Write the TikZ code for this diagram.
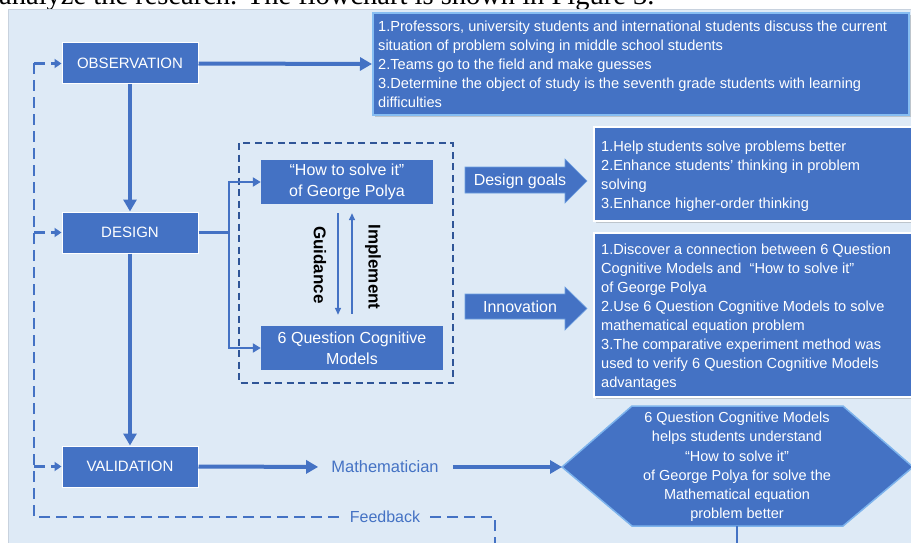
\documentclass[tikz,border=0pt]{standalone}
\usepackage{fontspec}
\setmainfont{Liberation Sans}
\newfontfamily\headserif{Liberation Serif}
\usetikzlibrary{arrows.meta,shadows}
\definecolor{boxblue}{HTML}{4472C4}
\definecolor{panelbg}{HTML}{DEEAF6}
\definecolor{paneledge}{HTML}{C8D2DE}
\definecolor{darkdash}{HTML}{2F5597}
\definecolor{edgeblue}{HTML}{86BDF2}
\definecolor{hexedge}{HTML}{7DB3EC}

\begin{document}
\begin{tikzpicture}[x=1pt,y=-1pt,
  stage/.style={draw=white, line width=1pt, fill=boxblue, text=white,
    minimum width=136pt, minimum height=41pt, inner sep=0pt,
    font=\fontsize{15}{18}\selectfont},
  model/.style={fill=boxblue, text=white, inner sep=0pt, align=center,
    font=\fontsize{16}{21}\selectfont},
  listbox/.style={fill=boxblue, inner sep=0pt, anchor=north west,
    drop shadow={shadow xshift=1.5pt, shadow yshift=-2pt, opacity=0.35}},
  listtext/.style={text=white, inner sep=0pt, anchor=north west, align=left,
    font=\fontsize{14.6}{19}\selectfont},
  mainline/.style={boxblue, line width=4pt},
  mainarrow/.style={mainline, -{Triangle[length=12pt,width=13pt]}},
  midline/.style={boxblue, line width=2.5pt},
  midarrow/.style={midline, -{Triangle[length=8pt,width=9pt]}},
  thinarrow/.style={boxblue, line width=1.5pt, -{Triangle[length=7pt,width=6pt]}},
  fbdash/.style={boxblue, line width=2.5pt, dash pattern=on 11pt off 6pt},
  fbarrow/.style={fbdash, -{Triangle[length=7pt,width=9pt]}},
  blockarrow/.style={fill=boxblue, draw=edgeblue!60!boxblue, line width=0.6pt},
  sidelabel/.style={text=black, inner sep=0pt, rotate=-90,
    font=\bfseries\fontsize{17}{20}\selectfont},
  flowlabel/.style={text=boxblue, inner sep=0pt, font=\fontsize{16.5}{20}\selectfont}
]
\useasboundingbox (0,0) rectangle (911,543);
\fill[white] (0,0) rectangle (911,543);

% running text of the page above the figure
\node[anchor=base west, inner sep=0pt, font=\headserif\fontsize{28.5}{34}\selectfont]
  (header) at (-1,5) {analyze the research. The flowchart is shown in Figure 3.};

% figure panel
\draw[fill=panelbg, draw=paneledge, line width=1pt] (8,10) rectangle (920,560);

% ---------- stages ----------
\node[stage] (obs) at (130,63.5) {OBSERVATION};
\node[stage] (des) at (130,232.5) {DESIGN};
\node[stage] (val) at (130,466.5) {VALIDATION};

% ---------- observation notes ----------
\node[listbox, draw=edgeblue, line width=2pt, minimum width=536pt, minimum height=102pt]
  (obsbox) at (372,12) {};
\node[listtext] (obstext) at (378,20.5)
  {1.Professors, university students and international students discuss the current\\
   situation of problem solving in middle school students\\
   2.Teams go to the field and make guesses\\
   3.Determine the object of study is the seventh grade students with learning\\
   difficulties};

% ---------- design block ----------
\draw[darkdash, line width=1.8pt, dash pattern=on 7pt off 4.5pt] (239,143) rectangle (453,383);
\node[model, minimum width=172pt, minimum height=44pt] (howto) at (347,182)
  {\textquotedblleft How to solve it\textquotedblright\\of George Polya};
\node[model, minimum width=182pt, minimum height=44pt] (sixq) at (352,348)
  {6 Question Cognitive\\Models};

\coordinate (split) at (229,232.5);
\draw[midline] (des.east) -- (split);
\draw[midarrow] (split) |- (howto.west);
\draw[midarrow] (split) |- (sixq.west);

\draw[thinarrow] ([xshift=-9pt,yshift=-9pt]howto.south) -- ([xshift=-14pt,yshift=11pt]sixq.north);
\draw[thinarrow] ([xshift=0pt,yshift=12pt]sixq.north) -- ([xshift=5pt,yshift=-9pt]howto.south);
\node[sidelabel] (guide) at (320,265) {Guidance};
\node[sidelabel] (impl) at (373,267) {Implement};

% ---------- design goals / innovation ----------
\fill[blockarrow] (465,167) -- (565,167) -- (565,159) -- (587,181) -- (565,203)
  -- (565,193) -- (465,193) -- cycle;
\node[text=white, inner sep=0pt, font=\fontsize{16}{20}\selectfont] (goalslabel) at (520,181) {Design goals};
\fill[blockarrow] (465,294) -- (565,294) -- (565,287) -- (587,308.5) -- (565,330)
  -- (565,319) -- (465,319) -- cycle;
\node[text=white, inner sep=0pt, font=\fontsize{16}{20}\selectfont] (innolabel) at (520,307) {Innovation};

\node[listbox, draw=white, line width=2pt, minimum width=330pt, minimum height=94pt]
  (goalbox) at (593,126) {};
\node[listtext] (goaltext) at (601,140.5)
  {1.Help students solve problems better\\
   2.Enhance students' thinking in problem\\
   solving\\
   3.Enhance higher-order thinking};

\node[listbox, draw=white, line width=2pt, minimum width=330pt, minimum height=164pt]
  (innobox) at (593,232) {};
\node[listtext] (innotext) at (601,243.5)
  {1.Discover a connection between 6 Question\\
   Cognitive Models and \ \textquotedblleft How to solve it\textquotedblright\\
   of George Polya\\
   2.Use 6 Question Cognitive Models to solve\\
   mathematical equation problem\\
   3.The comparative experiment method was\\
   used to verify 6 Question Cognitive Models\\
   advantages};

% ---------- validation ----------
\coordinate (hexL) at (562,467);
\coordinate (hexB) at (737,526);
\coordinate (hexTail) at (737,548);
\draw[fill=boxblue, draw=hexedge, line width=1.5pt]
  (hexL) -- (632,406) -- (843,406) -- (913,467) -- (843,526) -- (632,526) -- cycle;
\node[text=white, inner sep=0pt, align=center, font=\fontsize{14.5}{19.2}\selectfont]
  (hextext) at (737,467)
  {6 Question Cognitive Models\\
   helps students understand\\
   \textquotedblleft How to solve it\textquotedblright\\
   of George Polya for solve the\\
   Mathematical equation\\
   problem better};
\draw[boxblue, line width=2pt] (hexB) -- (hexTail);

\node[flowlabel] (math) at (385,467) {Mathematician};

% ---------- main flow ----------
\draw[mainarrow] (obs.east) -- (obsbox.west);
\draw[mainarrow] (obs.south) -- (des.north);
\draw[mainarrow] (des.south) -- (val.north);
\draw[mainarrow, shorten >=13pt] (val.east) -- (math.west);
\draw[mainarrow, shorten <=14pt] (math.east) -- (hexL);

% ---------- feedback loop ----------
\coordinate (fbTail) at (495,548);
\coordinate (fbCorner) at (495,517);
\coordinate (fbLeft) at (34,517);
\coordinate (fbTop) at (34,63.5);
\coordinate (fbMid) at (34,232.5);
\coordinate (fbLow) at (34,466.5);
\draw[fbdash] (fbTail) -- (fbCorner) -- (fbLeft) -- (fbTop);
\draw[fbarrow] (fbTop) -- (obs.west);
\draw[fbarrow] (fbMid) -- (des.west);
\draw[fbarrow] (fbLow) -- (val.west);
\node[flowlabel, fill=panelbg, inner xsep=5pt, inner ysep=2pt, font=\fontsize{16}{20}\selectfont]
  (fbtext) at (385,517) {Feedback};
\end{tikzpicture}
\end{document}
